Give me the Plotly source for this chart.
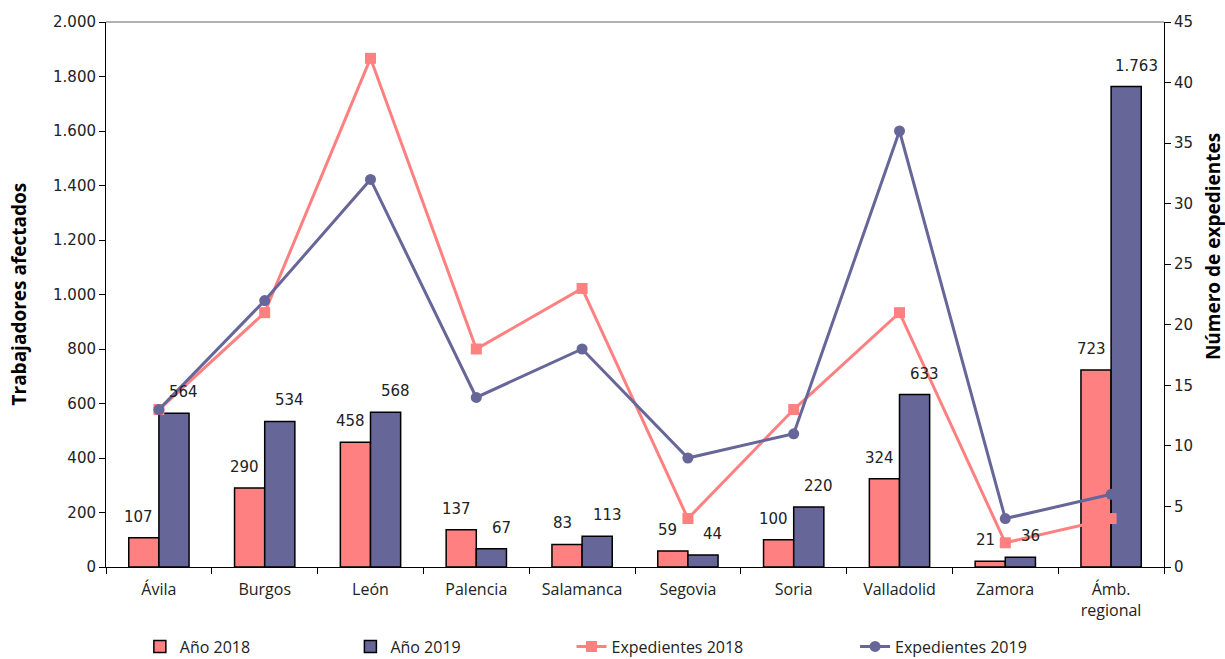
import plotly.graph_objects as go

categories = ["Ávila", "Burgos", "León", "Palencia", "Salamanca", "Segovia",
              "Soria", "Valladolid", "Zamora", "Ámb.<br>regional"]
trab_2018 = [107, 290, 458, 137, 83, 59, 100, 324, 21, 723]
trab_2019 = [564, 534, 568, 67, 113, 44, 220, 633, 36, 1763]
exp_2018 = [13, 21, 42, 18, 23, 4, 13, 21, 2, 4]
exp_2019 = [13, 22, 32, 14, 18, 9, 11, 36, 4, 6]

C18 = "#FF8080"
C19 = "#666699"
FONT = "DejaVu Sans"
LFONT = dict(family="Open Sans", size=16, color="#222")
TFONT = dict(family=FONT, size=15, color="#222")

fig = go.Figure()
fig.add_trace(go.Bar(x=categories, y=trab_2018, name="Año 2018", legend="legend",
                     marker=dict(color=C18, line=dict(color="black", width=1.5))))
fig.add_trace(go.Bar(x=categories, y=trab_2019, name="Año 2019", legend="legend2",
                     marker=dict(color=C19, line=dict(color="black", width=1.5))))
fig.add_trace(go.Scatter(x=categories, y=exp_2018, name="Expedientes 2018", yaxis="y2",
                         legend="legend3",
                         mode="lines+markers", line=dict(color=C18, width=3),
                         marker=dict(symbol="square", size=11, color=C18)))
fig.add_trace(go.Scatter(x=categories, y=exp_2019, name="Expedientes 2019", yaxis="y2",
                         legend="legend4",
                         mode="lines+markers", line=dict(color=C19, width=3),
                         marker=dict(symbol="circle", size=11, color=C19)))

# value labels above bars
for c, v in zip(categories, trab_2018):
    fig.add_annotation(x=c, y=v, xref="x", yref="y", text=f"{v:,}".replace(",", "."),
                       showarrow=False, xshift=-20, yshift=21, font=TFONT)
for c, v in zip(categories, trab_2019):
    fig.add_annotation(x=c, y=v, xref="x", yref="y", text=f"{v:,}".replace(",", "."),
                       showarrow=False, xshift=25, yshift=21, font=TFONT)

# axis titles
fig.add_annotation(x=0, xref="paper", xshift=-88, xanchor="center", y=0.5, yref="paper",
                   yanchor="middle", textangle=-90,
                   text="<b>Trabajadores afectados</b>", showarrow=False,
                   font=dict(family="Open Sans", size=19, color="black"))
fig.add_annotation(x=1, xref="paper", xshift=49, xanchor="center", y=0.587, yref="paper",
                   yanchor="middle", textangle=-90,
                   text="<b>Número de expedientes</b>", showarrow=False,
                   font=dict(family="Open Sans", size=19, color="black"))

def leg(x):
    return dict(orientation="h", x=x, xref="paper", y=-0.146, yanchor="middle",
                xanchor="left", font=LFONT, bgcolor="rgba(0,0,0,0)")

fig.update_layout(
    width=1225, height=659,
    paper_bgcolor="white", plot_bgcolor="white",
    margin=dict(l=106, r=61, t=22, b=92, autoexpand=False),
    barmode="group", bargap=0.43, bargroupgap=0,
    separators=",.",
    showlegend=True,
    legend=leg(0.032), legend2=leg(0.231), legend3=leg(0.440), legend4=leg(0.708),
    xaxis=dict(range=[-0.5, 9.5], showline=True, linecolor="black", linewidth=1,
               ticks="outside", tickson="boundaries", ticklen=6, tickcolor="black",
               ticklabelstandoff=8, tickfont=LFONT, automargin=False),
    yaxis=dict(range=[0, 2000], dtick=200, showgrid=False, showline=True, linecolor="black",
               ticks="outside", ticklen=6, tickcolor="black", tickformat=",d",
               tickfont=TFONT, zeroline=False, automargin=False),
    yaxis2=dict(range=[0, 45], dtick=5, overlaying="y", side="right", showgrid=False,
                showline=True, linecolor="black", ticks="outside", ticklen=6, tickcolor="black",
                tickfont=TFONT, zeroline=False, automargin=False),
)
fig.add_shape(type="line", xref="paper", yref="paper", x0=0, x1=1, y0=1, y1=1,
              line=dict(color="#999", width=1.5))

fig.write_html("out.html", config={"displayModeBar": False},
               post_script="document.body.style.margin='0';document.body.style.padding='0';")
